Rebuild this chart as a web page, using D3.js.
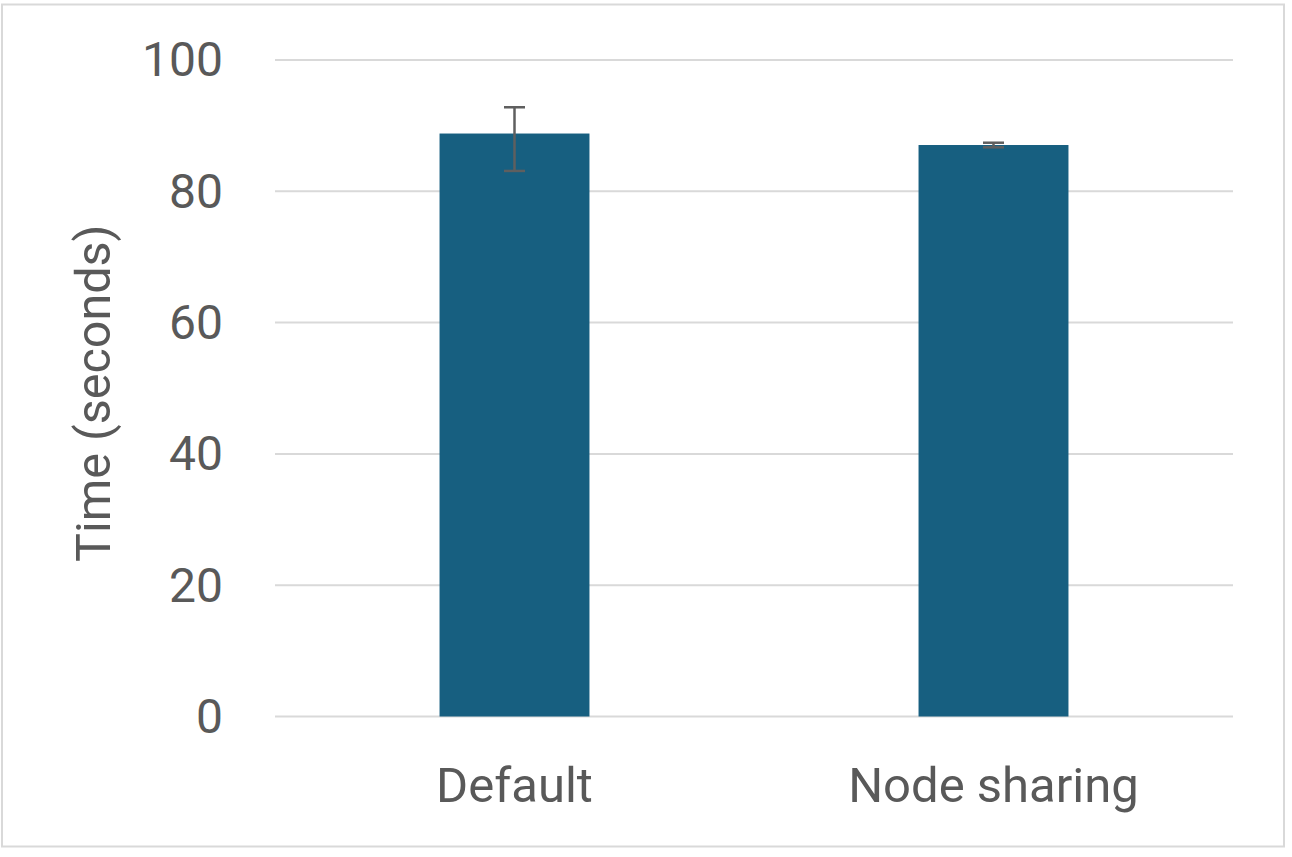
<!DOCTYPE html>
<html><head><meta charset="utf-8">
<script src="https://cdn.jsdelivr.net/npm/d3@7"></script>
<style>
html,body{margin:0;padding:0;background:#fff;}
svg{display:block;}
text{font-family:"Roboto","Liberation Sans",sans-serif;fill:#595959;}
</style></head>
<body>
<svg id="chart" width="1292" height="857"></svg>
<script>
const categories = ["Default", "Node sharing"];
const values = [88.8, 87.05];
const errLow = [83.1, 86.7];
const errHigh = [92.8, 87.4];
const yTicks = [0, 20, 40, 60, 80, 100];
const yTitle = "Time (seconds)";

const svg = d3.select("#chart");
const W = 1292, H = 857;
const m = {left: 275, right: 59, top: 60, bottom: 140.5};

svg.append("rect").attr("x", 2).attr("y", 4.5).attr("width", 1282).attr("height", 842)
  .attr("fill", "#fff").attr("stroke", "#d9d9d9").attr("stroke-width", 2);

const x = d3.scaleBand().domain(categories).range([m.left, W - m.right])
  .paddingInner(0.687).paddingOuter(0.3435);
const y = d3.scaleLinear().domain([0, 100]).range([H - m.bottom, m.top]);

// gridlines
svg.append("g").selectAll("line").data(yTicks).join("line")
  .attr("x1", m.left).attr("x2", W - m.right)
  .attr("y1", d => y(d)).attr("y2", d => y(d))
  .attr("stroke", "#d9d9d9").attr("stroke-width", 2);

// y axis labels
const yAxis = d3.axisLeft(y).tickValues(yTicks).tickSize(0).tickPadding(0).tickFormat(d3.format("d"));
const gy = svg.append("g").attr("transform", `translate(${m.left - 52},0)`).call(yAxis);
gy.select(".domain").remove();
gy.selectAll("text").attr("font-size", 48).attr("dy", "0.33em")
  .style("font-family", "Roboto, 'Liberation Sans', sans-serif").attr("fill", "#595959");

// bars
svg.append("g").selectAll("rect").data(categories).join("rect")
  .attr("x", d => x(d)).attr("width", x.bandwidth())
  .attr("y", (d, i) => y(values[i])).attr("height", (d, i) => y(0) - y(values[i]))
  .attr("fill", "#175f80");

// error bars
const eg = svg.append("g").attr("stroke", "#5f5f5f").attr("stroke-width", 2.5);
categories.forEach((c, i) => {
  const cx = x(c) + x.bandwidth() / 2;
  eg.append("line").attr("x1", cx).attr("x2", cx).attr("y1", y(errHigh[i])).attr("y2", y(errLow[i]));
  eg.append("line").attr("x1", cx - 10.5).attr("x2", cx + 10.5).attr("y1", y(errHigh[i])).attr("y2", y(errHigh[i]));
  eg.append("line").attr("x1", cx - 10.5).attr("x2", cx + 10.5).attr("y1", y(errLow[i])).attr("y2", y(errLow[i]));
});

// x axis labels
const xAxis = d3.axisBottom(x).tickSize(0).tickPadding(0);
const gx = svg.append("g").attr("transform", `translate(0,${y(0)})`).call(xAxis);
gx.select(".domain").remove();
gx.selectAll("text").attr("font-size", 49).attr("dy", null).attr("y", 85)
  .style("font-family", "Roboto, 'Liberation Sans', sans-serif").attr("fill", "#595959");

// y title
svg.append("text").attr("transform", `translate(${110},${(y(0) + y(100)) / 2 + 5}) rotate(-90)`)
  .attr("text-anchor", "middle").attr("font-size", 48.5).text(yTitle);
</script>
</body></html>
